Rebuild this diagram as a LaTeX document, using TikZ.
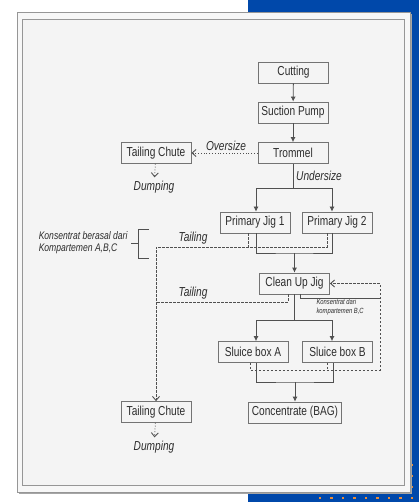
\documentclass[tikz,border=0pt]{standalone}
\usepackage{fontspec}
\setmainfont{Liberation Sans}[FakeStretch=0.78]
\usepackage{xcolor}
\usepackage{tikz}
\usetikzlibrary{positioning,arrows.meta}

\definecolor{slideblue}{RGB}{0,72,170}
\definecolor{dotorange}{RGB}{235,140,55}
\definecolor{linegray}{RGB}{80,80,80}
\definecolor{boxgray}{RGB}{115,115,115}
\definecolor{txtgray}{RGB}{45,45,45}
\definecolor{pagegray}{RGB}{244,244,244}
\definecolor{framegray}{RGB}{150,150,150}

\tikzset{
  box/.style={draw=boxgray, line width=0.8pt, fill=pagegray, minimum width=70pt,
    minimum height=21pt, inner xsep=3pt, text=txtgray, font=\fontsize{13}{15}\selectfont},
  lbl/.style={text=txtgray, font=\fontsize{13}{15}\selectfont\itshape},
  flow/.style={draw=linegray, line width=0.8pt},
  arr/.style={flow, -{Latex[length=5pt,width=5pt]}},
  tailline/.style={flow, dash pattern=on 2.5pt off 1.5pt},
  vtip/.style={-{Straight Barb[length=4pt,width=7pt,line width=0.9pt]}},
  dotline/.style={flow, dotted, vtip},
}

\begin{document}
\begin{tikzpicture}[x=1pt,y=-1pt]
    \useasboundingbox (0,0) rectangle (419,502);

    % Slide background
    \fill[slideblue] (248,0) rectangle (419,502);
    \foreach \y in {465,476,487} {
        \fill[dotorange] (410.7,\y-1.3) rectangle ++(2.6,2.6);
    }
    \foreach \x in {320,331.5,...,412} {
        \fill[dotorange] (\x-1.3,496.7) rectangle ++(2.6,2.6);
    }

    % Frame
    \fill[black!35] (19,14) rectangle (411.5,493.5);
    \draw[framegray, fill=white!97!black] (17,12) rectangle (410,492);
    \draw[framegray, fill=pagegray] (22,19) rectangle (404,485);

    % Boxes
    \node[box] (cut) at (293.5,72.5) {Cutting};
    \node[box] (pump) at (293,112.5) {Suction Pump};
    \node[box] (trom) at (293,153) {Trommel};
    \node[box] (tc1) at (156,153) {Tailing Chute};
    \node[lbl] (dump1) at (154,187) {Dumping};
    \node[box] (pj1) at (255,222.5) {Primary Jig 1};
    \node[box] (pj2) at (337,222.5) {Primary Jig 2};
    \node[box] (cuj) at (294.5,283.5) {Clean Up Jig};
    \node[box] (sba) at (253,352) {Sluice box A};
    \node[box] (sbb) at (337.5,352) {Sluice box B};
    \node[box] (conc) at (295,412.5) {Concentrate (BAG)};
    \node[box] (tc2) at (156,412) {Tailing Chute};
    \node[lbl] (dump2) at (154,447) {Dumping};

    % Labels
    \node[lbl] (over) at (226,146) {Oversize};
    \node[lbl] (under) at (319,176) {Undersize};
    \node[lbl] (tail1) at (193,238) {Tailing};
    \node[lbl] (tail2) at (193,293) {Tailing};
    \node[lbl, font=\fontsize{11}{12}\selectfont\itshape, align=left, anchor=east] (kab) at (131,243)
        {Konsentrat berasal dari\\Kompartemen A,B,C};
    \node[lbl, font=\fontsize{7.5}{9}\selectfont\itshape, align=left, anchor=west] (kbc) at (313,307.5)
        {Konsentrat dari\\kompartemen B,C};

    % Bracket
    \draw[flow, line width=0.6pt] (149,229) -| (138,258) -- (149,258);
    \coordinate (brmid) at (138,243);
    \draw[flow, line width=0.6pt] (kab.east) -- (brmid);

    % Main line
    \draw[arr] (cut) -- (pump);
    \draw[arr] (pump) -- (trom);
    \draw[dotline] (trom) -- (tc1);
    \draw[dotline] (tc1) -- (dump1);

    \coordinate (trsplit) at (293,188);
    \draw[flow] (trom) -- (trsplit);
    \draw[arr] (trsplit) -| ([xshift=1pt]pj1.north);
    \draw[arr] (trsplit) -| ([xshift=-5pt]pj2.north);

    \coordinate (pjjoin) at (294.5,253);
    \draw[flow] ([xshift=1pt]pj1.south) |- (pjjoin) -| ([xshift=-5pt]pj2.south);
    \draw[arr] (pjjoin) -- (cuj);

    \coordinate (cujsplit) at (294.5,320);
    \draw[flow] (cuj) -- (cujsplit);
    \draw[arr] (cujsplit) -| ([xshift=3pt]sba.north);
    \draw[arr] (cujsplit) -| ([xshift=-5.5pt]sbb.north);

    \coordinate (sbjoin) at (295,382);
    \draw[flow] ([xshift=3pt]sba.south) |- (sbjoin) -| ([xshift=-4.5pt]sbb.south);
    \draw[arr] (sbjoin) -- (conc);

    % Tailing
    \coordinate (tl1) at (156,247);
    \coordinate (tl2) at (156,302);
    \draw[tailline] ([xshift=-7pt]pj1.south) -- ([xshift=-7pt]pj1.south |- tl1);
    \draw[tailline, vtip] ([xshift=-10pt]pj2.south) |- (tl1) -- (tc2);
    \draw[tailline] ([xshift=-6.5pt]cuj.south) |- (tl2);
    \draw[dotline] (tc2) -- (dump2);

    % Return to clean up jig
    \coordinate (ret) at (380,370);
    \coordinate (kbcr) at (380,298);
    \draw[flow, line width=0.6pt] ([xshift=5.5pt]cuj.south) |- (kbcr);
    \draw[tailline, vtip] ([xshift=-3pt]sba.south) |- (ret) |- (cuj.east);
    \draw[tailline] ([xshift=-10.5pt]sbb.south) -- ([xshift=-10.5pt]sbb.south |- ret);
\end{tikzpicture}
\end{document}
